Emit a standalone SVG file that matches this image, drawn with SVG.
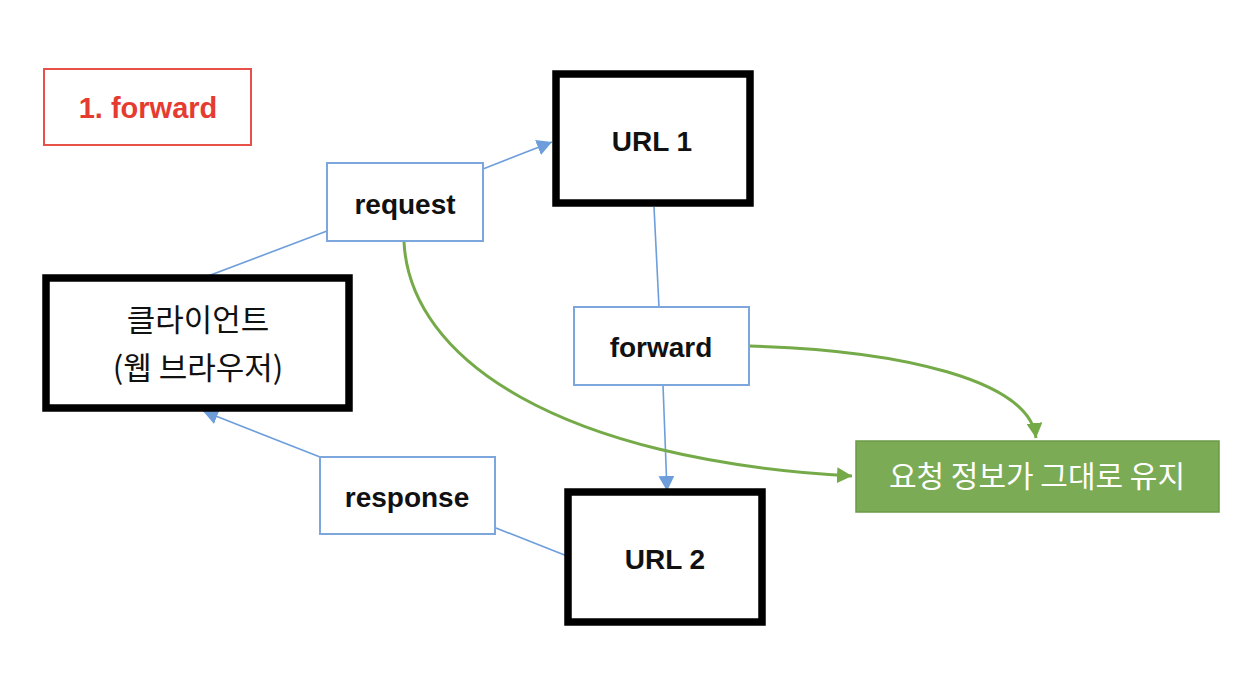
<svg xmlns="http://www.w3.org/2000/svg" width="1256" height="674" viewBox="0 0 1256 674">
<style>
.bg{fill:#ffffff}
.thick{fill:#ffffff;stroke:#000000;stroke-width:7.5}
.lbl{fill:#ffffff;stroke:#7ca6dc;stroke-width:2}
.title{fill:#ffffff;stroke:#e8504a;stroke-width:2}
.green{fill:#7cab55;stroke:#6b9a46;stroke-width:1.5}
.en{font-family:"Liberation Sans","Noto Sans CJK KR",sans-serif;font-weight:bold;font-size:28px;fill:#111111;text-anchor:middle}
.kr{font-family:"Noto Sans CJK KR","Noto Sans",sans-serif;font-size:31px;fill:#111111;text-anchor:middle}
.blue{fill:none;stroke:#6d9edb;stroke-width:1.6}
.gline{fill:none;stroke:#75aa48;stroke-width:3}
</style>
<defs>
<marker id="ab" markerUnits="userSpaceOnUse" markerWidth="16" markerHeight="16" refX="15" refY="8" orient="auto">
<path d="M0,0 L15,8 L0,16 z" fill="#6d9edb"/>
</marker>
<marker id="ag" markerUnits="userSpaceOnUse" markerWidth="16" markerHeight="16" refX="15" refY="8" orient="auto">
<path d="M0,0 L15,8 L0,16 z" fill="#75aa48"/>
</marker>
</defs>
<rect class="bg" x="0" y="0" width="1256" height="674"/>
<g id="connectors">
<line class="blue" x1="200" y1="279" x2="327" y2="231"/>
<line class="blue" x1="483" y1="169" x2="552" y2="142" marker-end="url(#ab)"/>
<line class="blue" x1="654" y1="207" x2="659" y2="307"/>
<line class="blue" x1="663" y1="385" x2="667" y2="491" marker-end="url(#ab)"/>
<line class="blue" x1="567" y1="556" x2="496" y2="528"/>
<line class="blue" x1="320" y1="457" x2="203" y2="411" marker-end="url(#ab)"/>
<path class="gline" d="M404,242 C410,360 560,460 852,476" marker-end="url(#ag)"/>
<path class="gline" d="M749,346 C900,350 1030,380 1036,438" marker-end="url(#ag)"/>
</g>
<g id="title">
<rect class="title" x="44" y="69" width="207" height="76"/>
<text x="148" y="118" class="en" style="fill:#e53b30;font-size:29px">1. forward</text>
</g>
<g id="request">
<rect class="lbl" x="327" y="163" width="156" height="78"/>
<text x="405" y="214" class="en">request</text>
</g>
<g id="client">
<rect class="thick" x="46" y="278" width="303" height="130"/>
<text x="198" y="331" class="kr">클라이언트</text>
<text x="198" y="379" class="kr">(웹 브라우저)</text>
</g>
<g id="url1">
<rect class="thick" x="556" y="74" width="194" height="129"/>
<text x="652" y="151" class="en">URL 1</text>
</g>
<g id="forward">
<rect class="lbl" x="574" y="307" width="175" height="78"/>
<text x="661" y="357" class="en">forward</text>
</g>
<g id="response">
<rect class="lbl" x="320" y="457" width="175" height="77"/>
<text x="407" y="507" class="en">response</text>
</g>
<g id="url2">
<rect class="thick" x="568" y="492" width="194" height="130"/>
<text x="665" y="569" class="en">URL 2</text>
</g>
<g id="keep">
<rect class="green" x="856" y="441" width="363" height="71"/>
<text x="1037" y="487" class="kr" style="fill:#ffffff;font-size:30px">요청 정보가 그대로 유지</text>
</g>
</svg>
